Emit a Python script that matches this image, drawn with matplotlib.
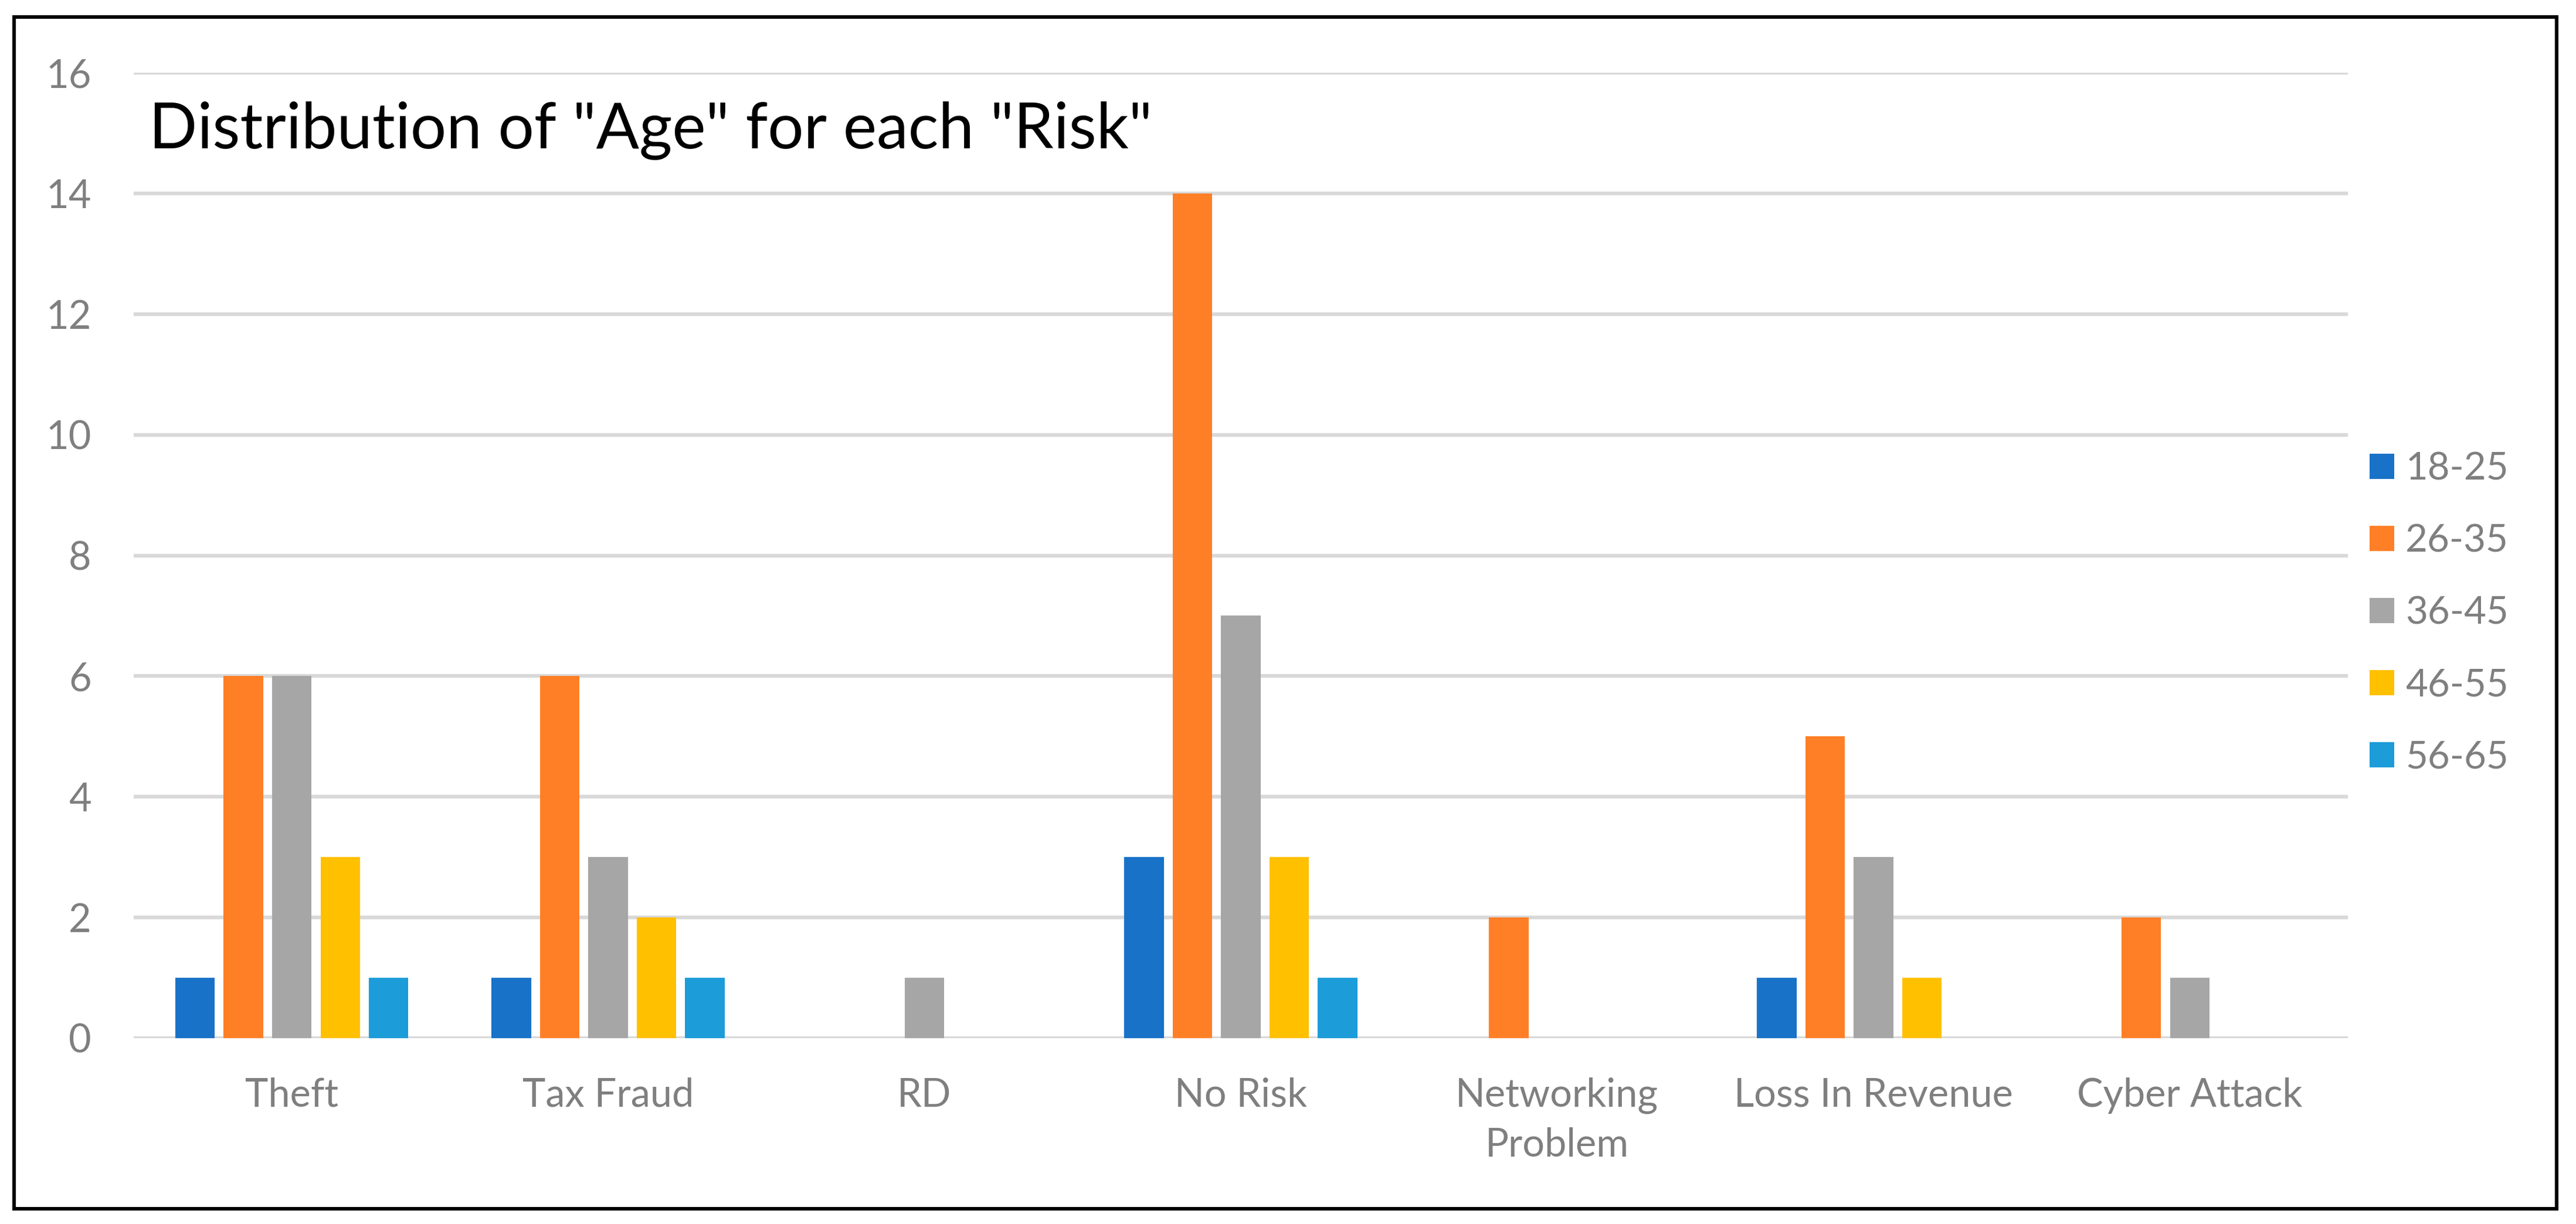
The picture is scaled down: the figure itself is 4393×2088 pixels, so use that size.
import matplotlib
matplotlib.use("Agg")
import matplotlib.pyplot as plt
from matplotlib.patches import Rectangle, Patch
import numpy as np

categories = ["Theft", "Tax Fraud", "RD", "No Risk", "Networking\nProblem",
              "Loss In Revenue", "Cyber Attack"]
series_names = ["18-25", "26-35", "36-45", "46-55", "56-65"]
age_18_25 = [1, 1, 0, 3, 0, 1, 0]
age_26_35 = [6, 6, 0, 14, 2, 5, 2]
age_36_45 = [6, 3, 1, 7, 0, 3, 1]
age_46_55 = [3, 2, 0, 3, 0, 1, 0]
age_56_65 = [1, 1, 0, 1, 0, 0, 0]
series_values = [age_18_25, age_26_35, age_36_45, age_46_55, age_56_65]
colors = ["#1872C8", "#FF7F27", "#A6A6A6", "#FFC000", "#1C9CD8"]
yticks = [0, 2, 4, 6, 8, 10, 12, 14, 16]
title = 'Distribution of "Age" for each "Risk"'

FONT = "Lato"
GRAY = "#7F7F7F"
plt.rcParams["font.family"] = [FONT, "DejaVu Sans"]

W, H = 4393, 2088
DPI = 200
fig = plt.figure(figsize=(W / DPI, H / DPI), dpi=DPI)
fig.patch.set_facecolor("white")

# outer frame
fig.patches.append(Rectangle((24 / W, 1 - 2062 / H), (4360 - 24) / W, (2062 - 29) / H,
                             transform=fig.transFigure, fill=False,
                             edgecolor="black", linewidth=2.2, zorder=10))

ax = fig.add_axes([228 / W, 1 - 1771 / H, (4004 - 228) / W, (1771 - 124) / H])
x = np.arange(len(categories))
bw = 0.125
step = 0.153
for i, (vals, c) in enumerate(zip(series_values, colors)):
    ax.bar(x + (i - 2) * step, vals, width=bw, color=c, zorder=3, label=series_names[i])

ax.set_xlim(-0.5, len(categories) - 0.5)
ax.set_ylim(0, 16)
ax.set_yticks(yticks)
ax.set_yticklabels([str(v) for v in yticks])
ax.set_xticks(x)
ax.set_xticklabels(categories, linespacing=1.45)
for s in ax.spines.values():
    s.set_visible(False)
ax.yaxis.grid(True, color="#D9D9D9", linewidth=2.3, zorder=0)
ax.set_axisbelow(True)
ax.tick_params(axis="y", length=0, pad=26, labelsize=24, labelcolor=GRAY)
ax.tick_params(axis="x", length=0, pad=24, labelsize=24, labelcolor=GRAY)

fig.text(254 / W, 1 - 253 / H, title, fontsize=39, color="black",
         ha="left", va="baseline")

handles = [Patch(facecolor=c, edgecolor="none") for c in colors]
leg = fig.legend(handles, series_names, loc="center left",
                 bbox_to_anchor=(4041 / W, 1 - 1046 / H), frameon=False,
                 fontsize=23.5, handlelength=0.64, handleheight=0.64,
                 handletextpad=0.3, labelspacing=0.98, borderpad=0,
                 borderaxespad=0)
for t in leg.get_texts():
    t.set_color(GRAY)

fig.savefig("out.png", dpi=DPI, facecolor="white")
